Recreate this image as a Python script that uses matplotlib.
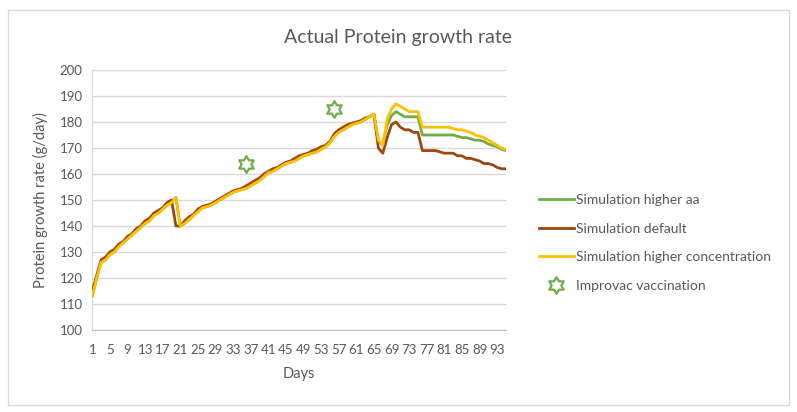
import numpy as np
import matplotlib
matplotlib.use("Agg")
from matplotlib import pyplot as plt
from matplotlib.path import Path
from matplotlib.patches import Rectangle

plt.rcParams['font.family'] = ['Lato', 'DejaVu Sans']

days = np.arange(1, 96)

# Simulation higher concentration (yellow)
higher_conc = [113, 120, 126, 127, 129, 130, 132, 133.5, 135, 136.5,
               138, 139.5, 141, 142, 144, 145, 146.5, 148, 149, 151,
               140, 141, 142.5, 144, 145.5, 147, 147.5, 148, 149, 150,
               151, 152, 153, 153.5, 154, 154.5, 155.5, 156.5, 157.5, 159,
               160.5, 161, 162, 163, 164, 164.5, 165, 166, 167, 167.5,
               168, 168.5, 169.5, 170.5, 172, 174.5, 176, 177, 178, 179,
               179.5, 180, 181, 182, 183, 173, 171, 181, 185, 187,
               186, 185, 184, 184, 184, 178, 178, 178, 178, 178,
               178, 178, 177.5, 177, 177, 176.5, 176, 175, 174.5, 174,
               173, 172, 171, 170, 169.5]

# Simulation higher aa (green) - same as yellow until day 65
higher_aa = higher_conc[:65] + [172.5, 171.5, 179, 182.5, 184,
                                183, 182, 182, 182, 182,
                                175, 175, 175, 175, 175, 175, 175, 175, 174.5, 174,
                                174, 173.5, 173, 173, 172.5, 171.5, 171, 170.5, 169.5, 169]

# Simulation default (brown)
default = [115, 121, 127, 128, 130, 131, 133, 134, 136, 137,
           139, 140, 142, 143, 145, 146, 147, 149, 150, 140,
           140, 142, 143.5, 144.5, 146.5, 147.5, 148, 148.5, 149.5, 150.5,
           151.5, 152.5, 153.5, 154, 154.5, 155.5, 156.5, 157.5, 158.5, 160,
           161, 162, 162.5, 163.5, 164.5, 165, 166, 167, 167.5, 168,
           169, 169.5, 170.5, 171, 172.5, 175.5, 177, 178, 179, 179.5,
           180, 180.5, 181.5, 182, 183, 170, 168, 174, 179, 180,
           178, 177, 177, 176, 176, 169, 169, 169, 169, 168.5,
           168, 168, 168, 167, 167, 166, 166, 165.5, 165, 164,
           164, 163.5, 162.5, 162, 162]

vacc_days = [36, 56]
vacc_vals = [164, 185]

xticks = list(range(1, 95, 4))

# star of David marker
ang = np.deg2rad(90 + 30 * np.arange(12))
rad = np.where(np.arange(12) % 2 == 0, 1.0, 1 / np.sqrt(3))
verts = np.column_stack([rad * np.cos(ang), rad * np.sin(ang)])
verts = np.vstack([verts, verts[:1]])
hexagram = Path(verts, closed=True)

gray = '#595959'
fig = plt.figure(figsize=(7.97, 4.12), dpi=100)
ax = fig.add_axes([92.3 / 797, 1 - 330 / 412, (506 - 92.3) / 797, 260 / 412])

ax.plot(days, higher_aa, color='#70AD47', lw=2.0, label='Simulation higher aa', zorder=3)
ax.plot(days, default, color='#9E480E', lw=2.0, label='Simulation default', zorder=4)
ax.plot(days, higher_conc, color='#FFC000', lw=2.0, label='Simulation higher concentration', zorder=5)
ax.plot(vacc_days, vacc_vals, ls='none', marker=hexagram, ms=12, mfc='white', mec='#70AD47',
        mew=1.6, label='Improvac vaccination', zorder=6)

ax.set_xlim(1, 95)
ax.set_ylim(100, 200)
ax.set_yticks(range(100, 201, 10))
ax.set_xticks(xticks)
ax.tick_params(axis='x', length=0, labelsize=9.5, colors=gray, pad=10)
ax.tick_params(axis='y', length=0, labelsize=9.5, colors=gray, pad=7)
ax.grid(axis='y', color='#D9D9D9', lw=1)
ax.set_axisbelow(True)
for s in ['top', 'right']:
    ax.spines[s].set_visible(False)
ax.spines['left'].set_color('#D9D9D9')
ax.spines['bottom'].set_color('#BFBFBF')

ax.set_xlabel('Days', fontsize=10.5, color=gray, labelpad=8)
ax.set_ylabel('Protein growth rate (g/day)', fontsize=10.5, color=gray, labelpad=8)
fig.text(0.5, 1 - 37 / 412, 'Actual Protein growth rate', ha='center', va='center',
         fontsize=14, color=gray)

leg = ax.legend(loc='center left', bbox_to_anchor=(532 / 797, 1 - 243 / 412),
                bbox_transform=fig.transFigure, frameon=False, fontsize=10,
                handlelength=2.5, handletextpad=0.15, labelspacing=1.2, borderpad=0)
for t in leg.get_texts():
    t.set_color(gray)

fig.patches.append(Rectangle((8 / 797, 1 - 405 / 412), 781 / 797, 395 / 412,
                             transform=fig.transFigure, fill=False, ec='#D9D9D9', lw=1))

fig.savefig('out.png', dpi=100)
